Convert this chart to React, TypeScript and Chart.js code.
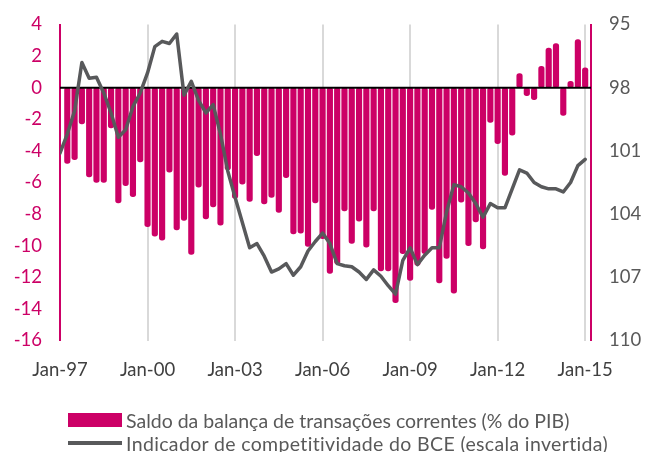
import React, { useEffect, useRef } from "react";
import { Chart, registerables } from "chart.js";

Chart.register(...registerables);

// ---- Data ----
const START_YEAR = 1997;

// Saldo da balança de transações correntes (% do PIB), quarterly, Mar-97 .. Dec-14
const balance: number[] = [
  -4.8, -4.55, -2.3, -5.65, -6.0, -6.0, -2.55, -7.3,
  -6.2, -6.9, -4.7, -8.8, -9.4, -9.65, -5.35, -9.0,
  -8.4, -10.55, -6.3, -8.3, -7.55, -8.7, -5.2, -7.0,
  -6.1, -7.2, -4.3, -7.35, -6.95, -7.9, -5.7, -9.25,
  -9.2, -10.05, -7.3, -9.55, -11.75, -11.15, -7.8, -9.85,
  -8.45, -10.1, -7.8, -11.6, -11.6, -13.6, -10.5, -12.2,
  -11.25, -10.5, -7.7, -12.35, -10.8, -13.0, -7.25, -10.0,
  -8.5, -10.2, -2.2, -3.55, -5.55, -3.0, 0.9, -0.5,
  -0.75, 1.35, 2.5, 2.8, -1.75, 0.4, 3.05, 1.25,
];

// Indicador de competitividade do BCE (escala invertida), quarterly, Jan-97 .. Jan-15
const competitiveness: number[] = [
  101.1, 100.2, 99.1, 96.8, 97.55, 97.5, 98.25, 99.2,
  100.35, 100.0, 98.9, 98.25, 97.3, 96.05, 95.8, 95.9,
  95.45, 98.35, 97.7, 98.6, 99.2, 98.8, 100.2, 101.95,
  103.2, 104.4, 105.6, 105.4, 106.0, 106.75, 106.6, 106.35,
  106.9, 106.5, 105.75, 105.3, 104.9, 105.4, 106.35, 106.45,
  106.5, 106.75, 107.1, 106.65, 106.95, 107.4, 107.8, 106.2,
  105.6, 106.4, 105.95, 105.6, 105.6, 103.9, 102.6, 102.7,
  103.0, 103.5, 104.15, 103.5, 103.7, 103.7, 102.8, 101.9,
  102.05, 102.5, 102.7, 102.8, 102.8, 102.95, 102.5, 101.7,
  101.4,
];

const xTickYears: number[] = [1997, 2000, 2003, 2006, 2009, 2012, 2015];
const xTickLabels: string[] = ["Jan-97", "Jan-00", "Jan-03", "Jan-06", "Jan-09", "Jan-12", "Jan-15"];

const LEGEND_BALANCE = "Saldo da balança de transações correntes (% do PIB)";
const LEGEND_COMP = "Indicador de competitividade do BCE (escala invertida)";

const PINK = "#cc0066";
const GRAY_LINE = "#58595b";
const FONT = "Lato";

const zeroLinePlugin = {
  id: "zeroLine",
  beforeDatasetDraw(chart: any, args: any) {
    if (args.meta.type !== "line") return;
    const y = chart.scales.y.getPixelForValue(0);
    const { left, right } = chart.chartArea;
    const ctx = chart.ctx;
    ctx.save();
    ctx.strokeStyle = "#000000";
    ctx.lineWidth = 2;
    ctx.beginPath();
    ctx.moveTo(left, y);
    ctx.lineTo(right, y);
    ctx.stroke();
    ctx.restore();
  },
};

const fitVertical = (width: number) => (s: any) => {
  s.width = width;
  s.paddingTop = 0;
  s.paddingBottom = 0;
};

export default function App() {
  const canvasRef = useRef<HTMLCanvasElement | null>(null);

  useEffect(() => {
    const canvas = canvasRef.current;
    if (!canvas) return;
    const chart = new Chart(canvas, {
      type: "bar",
      data: {
        datasets: [
          {
            type: "line",
            label: LEGEND_COMP,
            data: competitiveness.map((v, k) => ({ x: START_YEAR + k / 4, y: v })),
            yAxisID: "y1",
            borderColor: GRAY_LINE,
            backgroundColor: GRAY_LINE,
            borderWidth: 3.5,
            pointRadius: 0,
            tension: 0,
            borderJoinStyle: "round",
            borderCapStyle: "round",
            order: 0,
          } as any,
          {
            type: "bar",
            label: LEGEND_BALANCE,
            data: balance.map((v, i) => ({ x: START_YEAR + (i + 1) / 4, y: v })),
            yAxisID: "y",
            backgroundColor: PINK,
            barThickness: 5.5,
            borderRadius: 2.75,
            borderSkipped: false,
            grouped: false,
            order: 1,
          } as any,
        ],
      },
      options: {
        responsive: false,
        animation: false,
        events: [],
        layout: { padding: { top: 24.5, left: 0, right: 0, bottom: 0 } },
        plugins: { legend: { display: false }, tooltip: { enabled: false } },
        scales: {
          x: {
            type: "linear",
            min: 1997,
            max: 2015.2,
            offset: false,
            grid: { offset: false, color: "#d9d9d9", lineWidth: 2, drawTicks: false },
            border: { display: false },
            afterBuildTicks: (s: any) => {
              s.ticks = xTickYears.map((v) => ({ value: v }));
            },
            afterFit: (s: any) => {
              s.height = 111.5;
              s.paddingLeft = 0;
              s.paddingRight = 0;
            },
            ticks: {
              autoSkip: false,
              maxRotation: 0,
              minRotation: 0,
              padding: 18,
              color: "#404040",
              font: { family: FONT, size: 18.5 },
              callback: (_v: any, i: number) => xTickLabels[i],
            },
          } as any,
          y: {
            type: "linear",
            position: "left",
            min: -16,
            max: 4,
            grid: { display: false, drawTicks: false },
            border: { display: true, color: PINK, width: 2 },
            afterFit: fitVertical(60),
            ticks: {
              stepSize: 2,
              padding: 18,
              color: PINK,
              font: { family: FONT, size: 18.5 },
            },
          } as any,
          y1: {
            type: "linear",
            position: "right",
            min: 95,
            max: 110,
            reverse: true,
            grid: { display: false, drawTicks: false },
            border: { display: true, color: PINK, width: 2 },
            afterFit: fitVertical(55),
            ticks: {
              stepSize: 3,
              padding: 18,
              color: "#595959",
              font: { family: FONT, size: 18.5 },
            },
          } as any,
        },
      },
      plugins: [zeroLinePlugin],
    });
    return () => chart.destroy();
  }, []);

  return (
    <div style={{ position: "absolute", left: 0, top: 0, width: 646, height: 452, background: "#ffffff" }}>
      <canvas ref={canvasRef} width={646} height={452} style={{ display: "block", width: 646, height: 452 }} />
      <div
        style={{
          position: "absolute",
          left: 68,
          top: 408.5,
          fontFamily: FONT,
          fontSize: 19.5,
          lineHeight: "23px",
          color: "#595959",
          whiteSpace: "nowrap",
        }}
      >
        <div style={{ display: "flex", alignItems: "center" }}>
          <span style={{ display: "inline-block", width: 54, height: 14, background: PINK, marginRight: 4 }} />
          <span>{LEGEND_BALANCE}</span>
        </div>
        <div style={{ display: "flex", alignItems: "center" }}>
          <span style={{ display: "inline-block", width: 54, height: 3.5, background: GRAY_LINE, marginRight: 4 }} />
          <span style={{ letterSpacing: "0.35px" }}>{LEGEND_COMP}</span>
        </div>
      </div>
    </div>
  );
}
